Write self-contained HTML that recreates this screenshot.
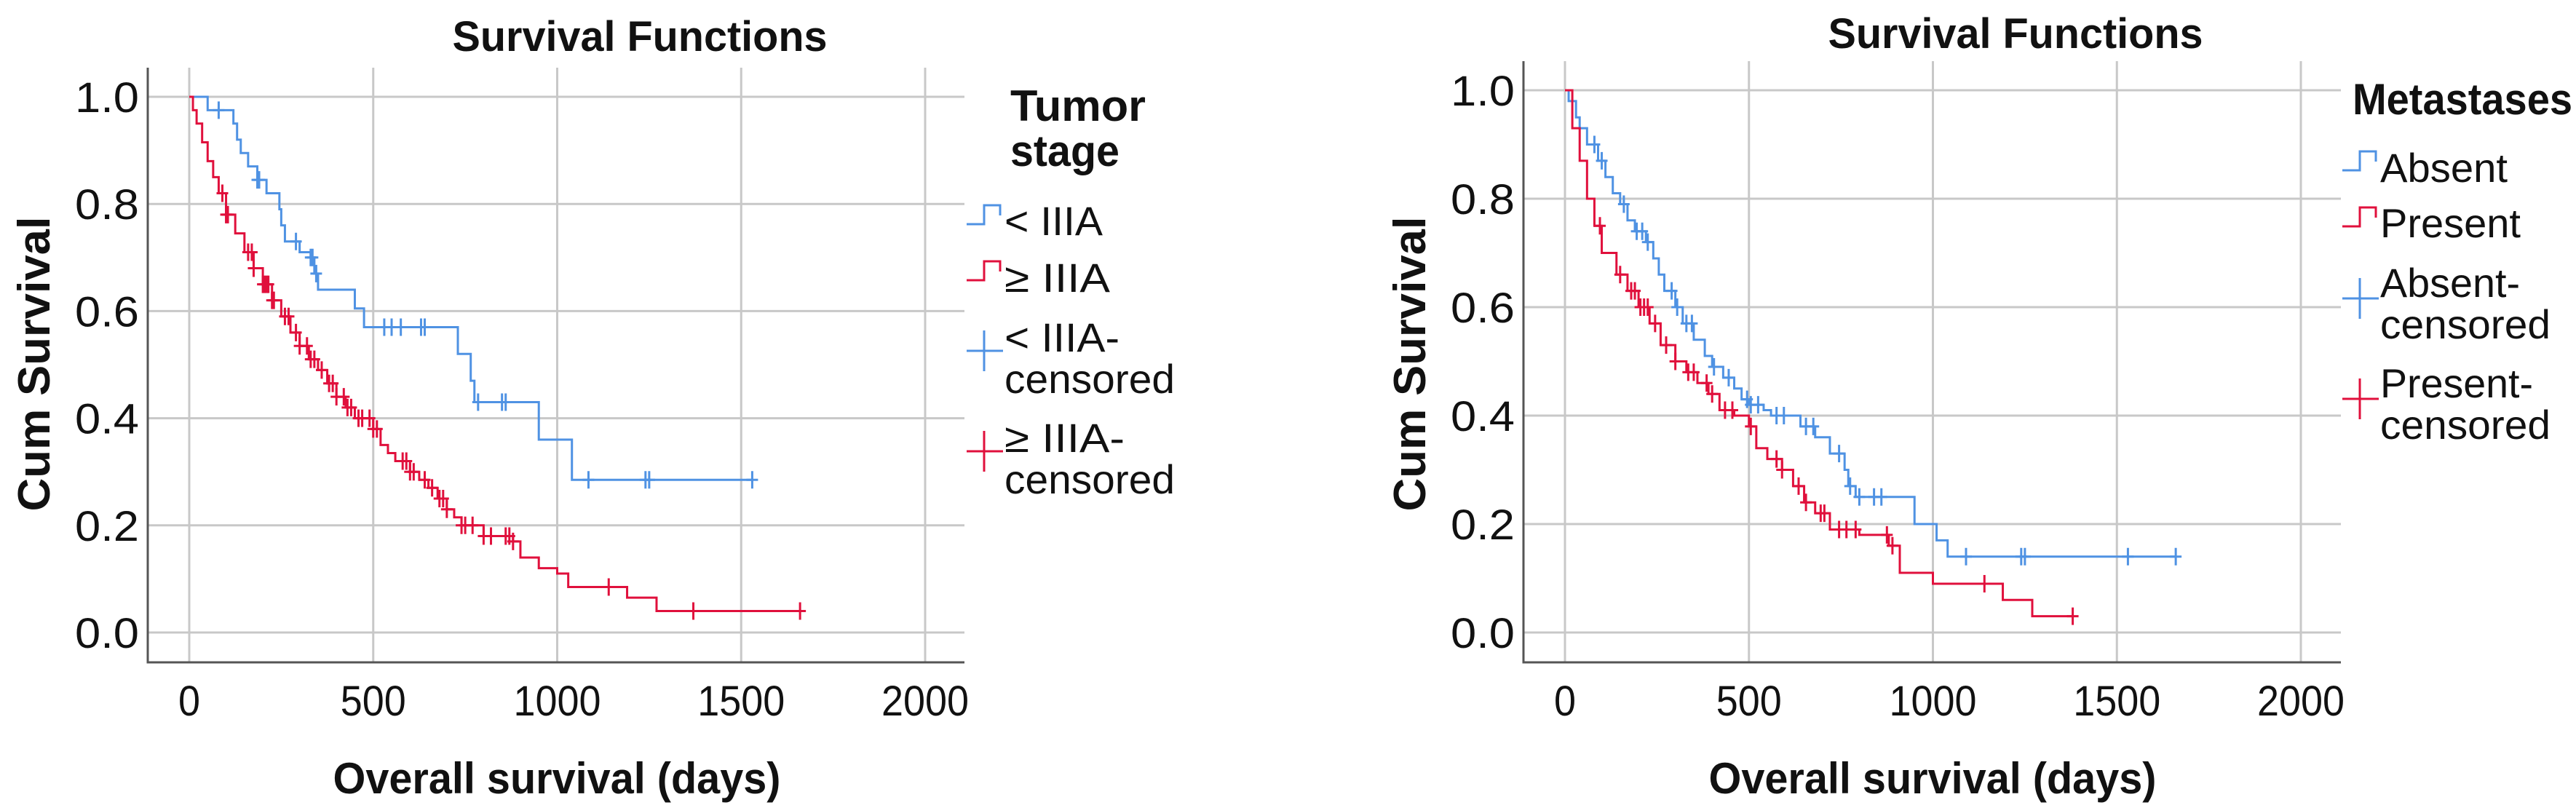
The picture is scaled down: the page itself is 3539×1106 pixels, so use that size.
<!DOCTYPE html>
<html><head><meta charset="utf-8">
<style>
html,body{margin:0;padding:0;background:#fff;}
svg{display:block;}
text{font-family:"Liberation Sans",sans-serif;fill:#111;}
</style></head>
<body>
<svg id="root" width="3539" height="1106" viewBox="0 0 3539 1106" xmlns="http://www.w3.org/2000/svg">
</svg>
<script>
// ---------- data: left chart (Tumor stage) ----------
const xTicks = [0, 500, 1000, 1500, 2000];
const yTicks = [0.0, 0.2, 0.4, 0.6, 0.8, 1.0];
const yTickLabels = ["0.0", "0.2", "0.4", "0.6", "0.8", "1.0"];
const xTickLabels = ["0", "500", "1000", "1500", "2000"];

const lowStageTimes = [0, 50, 120, 130, 140, 160, 185, 210, 245, 250, 260, 300, 330, 340, 350, 450, 475, 730, 765, 775, 950, 1040];
const lowStageSurv  = [1.0, 0.975, 0.95, 0.92, 0.895, 0.87, 0.845, 0.82, 0.79, 0.76, 0.73, 0.71, 0.70, 0.67, 0.64, 0.605, 0.57, 0.52, 0.47, 0.43, 0.36, 0.285];
const lowStageEnd = 1530;
const lowStageCensor = [80, 185, 190, 290, 330, 335, 345, 530, 550, 575, 630, 640, 785, 850, 860, 1085, 1240, 1250, 1530];

const highStageTimes = [0, 10, 20, 35, 50, 65, 80, 100, 125, 150, 175, 200, 225, 250, 275, 300, 325, 350, 375, 400, 425, 450, 500, 520, 540, 560, 600, 625, 650, 675, 700, 720, 740, 800, 880, 900, 950, 1000, 1030, 1190, 1270];
const highStageSurv  = [1.0, 0.975, 0.95, 0.915, 0.88, 0.85, 0.82, 0.78, 0.745, 0.71, 0.68, 0.65, 0.62, 0.59, 0.56, 0.535, 0.51, 0.49, 0.465, 0.44, 0.42, 0.40, 0.38, 0.35, 0.335, 0.32, 0.30, 0.285, 0.27, 0.25, 0.23, 0.215, 0.20, 0.18, 0.17, 0.14, 0.12, 0.11, 0.085, 0.065, 0.04];
const highStageEnd = 1660;
const highStageCensor = [90, 100, 105, 160, 170, 175, 200, 205, 210, 215, 225, 230, 260, 270, 290, 300, 320, 330, 340, 360, 380, 390, 400, 420, 430, 440, 460, 470, 490, 500, 510, 580, 590, 600, 610, 640, 660, 680, 690, 700, 740, 750, 770, 800, 820, 860, 870, 880, 1140, 1370, 1660];

// ---------- data: right chart (Metastases) ----------
const absentTimes = [0, 10, 30, 40, 60, 90, 110, 130, 150, 170, 190, 220, 240, 255, 270, 300, 320, 350, 380, 400, 430, 460, 480, 500, 540, 560, 640, 680, 720, 760, 770, 790, 950, 1010, 1040];
const absentSurv  = [1.0, 0.98, 0.95, 0.93, 0.90, 0.87, 0.84, 0.81, 0.79, 0.76, 0.74, 0.72, 0.69, 0.66, 0.63, 0.60, 0.57, 0.54, 0.51, 0.49, 0.47, 0.45, 0.43, 0.42, 0.41, 0.40, 0.38, 0.36, 0.33, 0.30, 0.27, 0.25, 0.20, 0.17, 0.14];
const absentEnd = 1660;
const absentCensor = [80, 100, 160, 195, 210, 225, 290, 305, 330, 345, 405, 445, 495, 505, 525, 575, 595, 655, 675, 745, 775, 800, 840, 860, 1090, 1240, 1250, 1530, 1660];

const presentTimes = [0, 20, 40, 60, 80, 100, 140, 170, 200, 230, 260, 300, 330, 360, 390, 420, 460, 500, 520, 550, 590, 620, 650, 680, 720, 800, 880, 910, 1000, 1190, 1270];
const presentSurv  = [1.0, 0.93, 0.87, 0.80, 0.75, 0.70, 0.66, 0.63, 0.60, 0.57, 0.53, 0.50, 0.48, 0.46, 0.44, 0.41, 0.40, 0.38, 0.34, 0.32, 0.30, 0.27, 0.24, 0.22, 0.19, 0.18, 0.16, 0.11, 0.09, 0.06, 0.03];
const presentEnd = 1380;
const presentCensor = [95, 150, 180, 190, 205, 215, 225, 245, 275, 300, 335, 350, 385, 400, 435, 455, 505, 575, 590, 635, 655, 695, 705, 745, 765, 790, 875, 890, 1140, 1380];

const BLUE = "#4f92e3", RED = "#e0103c";
const NS = "http://www.w3.org/2000/svg";
const root = document.getElementById('root');

function mk(tag, attrs, parent, txt) {
  const e = document.createElementNS(NS, tag);
  for (const k in attrs) e.setAttribute(k, attrs[k]);
  if (txt !== undefined) e.textContent = txt;
  (parent || root).appendChild(e);
  return e;
}

function survAt(times, surv, t) {
  let s = surv[0];
  for (let i = 0; i < times.length; i++) { if (times[i] <= t) s = surv[i]; }
  return s;
}

function drawChart(cfg) {
  const g = mk('g', {});
  
  
  const xS = t => cfg.x0 + (cfg.x2000 - cfg.x0) * t / 2000;
  const yS = v => cfg.y0 + (cfg.y1 - cfg.y0) * v;

  // grid
  xTicks.forEach(t => {
    const l = mk('line', {x1: xS(t), x2: xS(t), y1: cfg.top, y2: cfg.bottom, stroke: '#c8c8c8', 'stroke-width': 3}, g);
    
    
  });
  yTicks.forEach(v => {
    const l = mk('line', {x1: cfg.left, x2: cfg.right, y1: yS(v), y2: yS(v), stroke: '#c8c8c8', 'stroke-width': 3}, g);
    
    
  });
  // axes
  const ax = mk('path', {d: `M${cfg.left},${cfg.top} V${cfg.bottom} H${cfg.right}`, fill: 'none', stroke: '#555', 'stroke-width': 3}, g);
  
  

  // tick labels
  yTicks.forEach((v, i) => {
    const t = mk('text', {x: cfg.left - 12, y: yS(v) + 21, 'text-anchor': 'end', 'font-size': 58, textLength: 88, lengthAdjust: 'spacingAndGlyphs'}, g, yTickLabels[i]);
    
    
  });
  xTicks.forEach((v, i) => {
    const w = xTickLabels[i].length * 30;
    const t = mk('text', {x: xS(v), y: 983, 'text-anchor': 'middle', 'font-size': 58, textLength: w, lengthAdjust: 'spacingAndGlyphs'}, g, xTickLabels[i]);
    
    
  });

  // titles
  const tt = mk('text', {x: cfg.titleX, y: cfg.titleY, 'text-anchor': 'middle', 'font-size': 58, 'font-weight': 'bold', textLength: 515, lengthAdjust: 'spacingAndGlyphs'}, g, 'Survival Functions');
  
  
  const xt = mk('text', {x: cfg.xTitleX, y: 1090, 'text-anchor': 'middle', 'font-size': 60, 'font-weight': 'bold', textLength: 615, lengthAdjust: 'spacingAndGlyphs'}, g, 'Overall survival (days)');
  
  
  const yt = mk('text', {x: 0, y: 0, 'text-anchor': 'middle', 'font-size': 62, 'font-weight': 'bold', textLength: 405, lengthAdjust: 'spacingAndGlyphs', transform: `translate(${cfg.yTitleX},${cfg.yTitleY}) rotate(-90)`}, g, 'Cum Survival');
  
  

  // series
  cfg.series.forEach(s => {
    let d = `M${xS(s.times[0])},${yS(s.surv[0])}`;
    for (let i = 1; i < s.times.length; i++) {
      d += ` H${xS(s.times[i])} V${yS(s.surv[i])}`;
    }
    d += ` H${xS(s.end)}`;
    const p = mk('path', {d: d, fill: 'none', stroke: s.color, 'stroke-width': 3}, g);
    
    
    s.censor.forEach(t => {
      const cx = xS(t), cy = yS(survAt(s.times, s.surv, t));
      const c = mk('path', {d: `M${cx},${cy - 12} V${cy + 12} M${cx - 8},${cy} H${cx + 8}`, stroke: s.color, 'stroke-width': 3, fill: 'none'}, g);
      
      
    });
  });

  // legend
  const lg = mk('g', {}, g);
  
  
  cfg.legendTitle.forEach((txt, i) => {
    const t = mk('text', {x: cfg.legTitleX, y: cfg.legTitleY + i * 62, 'font-size': 60, 'font-weight': 'bold', textLength: cfg.legTitleW[i], lengthAdjust: 'spacingAndGlyphs'}, lg, txt);
    
    
  });
  cfg.legend.forEach(e => {
    const ix = cfg.iconX;
    let ic;
    if (e.type === 'step') {
      ic = mk('path', {d: `M${ix},${e.iy + 26} H${ix + 24} V${e.iy} H${ix + 46} V${e.iy + 14}`, fill: 'none', stroke: e.color, 'stroke-width': 3}, lg);
      
      
    } else {
      ic = mk('path', {d: `M${ix + 24},${e.iy - 28} V${e.iy + 28} M${ix},${e.iy} H${ix + 50}`, fill: 'none', stroke: e.color, 'stroke-width': 3}, lg);
      
      
    }
    e.lines.forEach((ln, j) => {
      const t = mk('text', {x: ix + 52, y: e.ty + j * 57, 'font-size': 56, textLength: ln[1], lengthAdjust: 'spacingAndGlyphs'}, lg, ln[0]);
      
      
    });
  });
}

drawChart({
  name: 'tumor-stage-chart',
  x0: 260, x2000: 1271, y0: 869, y1: 133,
  left: 203, right: 1325, top: 93, bottom: 910,
  titleX: 879, titleY: 70, xTitleX: 765, yTitleX: 68, yTitleY: 500,
  legendTitle: ['Tumor', 'stage'], legTitleX: 1388, legTitleY: 166, legTitleW: [186, 150],
  iconX: 1328,
  series: [
    {name: 'low-stage', times: lowStageTimes, surv: lowStageSurv, end: lowStageEnd, censor: lowStageCensor, color: BLUE},
    {name: 'high-stage', times: highStageTimes, surv: highStageSurv, end: highStageEnd, censor: highStageCensor, color: RED}
  ],
  legend: [
    {type: 'step', color: BLUE, iy: 282, ty: 323, lines: [['< IIIA', 135]]},
    {type: 'step', color: RED, iy: 359, ty: 401, lines: [['\u2265 IIIA', 145]]},
    {type: 'cross', color: BLUE, iy: 482, ty: 483, lines: [['< IIIA-', 158], ['censored', 234]]},
    {type: 'cross', color: RED, iy: 620, ty: 621, lines: [['\u2265 IIIA-', 165], ['censored', 234]]}
  ]
});

drawChart({
  name: 'metastases-chart',
  x0: 2150, x2000: 3161, y0: 869, y1: 124,
  left: 2093, right: 3216, top: 84, bottom: 910,
  titleX: 2769, titleY: 66, xTitleX: 2655, yTitleX: 1958, yTitleY: 500,
  legendTitle: ['Metastases'], legTitleX: 3232, legTitleY: 157, legTitleW: [302],
  iconX: 3218,
  series: [
    {name: 'absent', times: absentTimes, surv: absentSurv, end: absentEnd, censor: absentCensor, color: BLUE},
    {name: 'present', times: presentTimes, surv: presentSurv, end: presentEnd, censor: presentCensor, color: RED}
  ],
  legend: [
    {type: 'step', color: BLUE, iy: 208, ty: 250, lines: [['Absent', 175]]},
    {type: 'step', color: RED, iy: 285, ty: 326, lines: [['Present', 193]]},
    {type: 'cross', color: BLUE, iy: 410, ty: 408, lines: [['Absent-', 192], ['censored', 234]]},
    {type: 'cross', color: RED, iy: 548, ty: 546, lines: [['Present-', 210], ['censored', 234]]}
  ]
});
</script>
</body></html>
